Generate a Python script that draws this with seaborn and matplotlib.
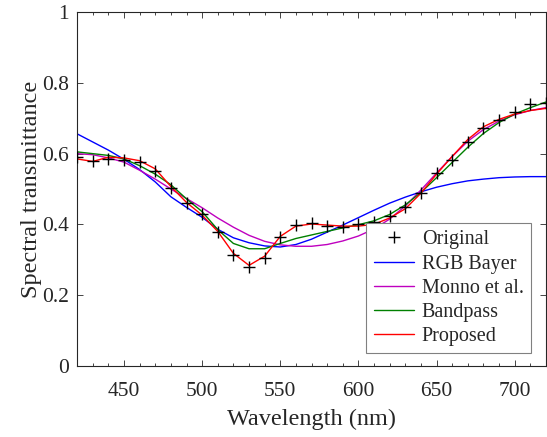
import numpy as np
import pandas as pd
import matplotlib
matplotlib.use("Agg")
import matplotlib.pyplot as plt
import seaborn as sns

# wavelength samples (nm)
wavelength = np.arange(420, 721, 10)

original = [0.590, 0.580, 0.586, 0.583, 0.577, 0.552, 0.503, 0.461, 0.428, 0.378,
            0.313, 0.280, 0.304, 0.365, 0.397, 0.403, 0.395, 0.393, 0.400, 0.406,
            0.423, 0.450, 0.490, 0.544, 0.583, 0.632, 0.672, 0.694, 0.717, 0.741, 0.743]
rgb_bayer = [0.656, 0.633, 0.610, 0.584, 0.555, 0.520, 0.478, 0.448, 0.420, 0.386,
             0.362, 0.348, 0.339, 0.336, 0.343, 0.358, 0.378, 0.398, 0.419, 0.440,
             0.460, 0.477, 0.492, 0.505, 0.515, 0.523, 0.528, 0.532, 0.534, 0.535, 0.535]
monno = [0.600, 0.597, 0.588, 0.576, 0.553, 0.528, 0.500, 0.473, 0.447, 0.418,
         0.392, 0.369, 0.352, 0.342, 0.338, 0.338, 0.343, 0.353, 0.367, 0.387,
         0.415, 0.452, 0.497, 0.545, 0.592, 0.635, 0.668, 0.692, 0.710, 0.722, 0.730]
bandpass = [0.605, 0.600, 0.595, 0.585, 0.566, 0.542, 0.512, 0.472, 0.436, 0.385,
            0.346, 0.331, 0.331, 0.346, 0.360, 0.370, 0.380, 0.390, 0.399, 0.410,
            0.428, 0.455, 0.490, 0.532, 0.575, 0.618, 0.657, 0.688, 0.712, 0.730, 0.746]
proposed = [0.585, 0.578, 0.590, 0.588, 0.580, 0.557, 0.507, 0.462, 0.426, 0.380,
            0.318, 0.284, 0.310, 0.366, 0.395, 0.401, 0.398, 0.395, 0.395, 0.400,
            0.418, 0.444, 0.488, 0.542, 0.592, 0.640, 0.676, 0.697, 0.712, 0.722, 0.728]

methods = ["RGB Bayer", "Monno et al.", "Bandpass", "Proposed"]
colors = ["#0000ff", "#bf00bf", "#008000", "#ff0000"]

df_curves = pd.DataFrame({
    "wl": np.tile(wavelength, 4),
    "val": rgb_bayer + monno + bandpass + proposed,
    "method": np.repeat(methods, len(wavelength)),
})
df_orig = pd.DataFrame({"wl": wavelength, "val": original})

sns.set_style("ticks")
plt.rcParams["font.family"] = ["Liberation Serif", "DejaVu Serif"]
plt.rcParams["axes.edgecolor"] = "#262626"
plt.rcParams["axes.linewidth"] = 0.8

fig = plt.figure(figsize=(5.47, 4.37), dpi=100)
ax = fig.add_axes([0.141, 0.163, 0.857, 0.809])

# Original as '+' markers
ax.plot(df_orig["wl"], df_orig["val"], linestyle="none", marker="+",
        markersize=9, markeredgewidth=1.0, color="black", label="Original", zorder=5)

sns.lineplot(data=df_curves, x="wl", y="val", hue="method", hue_order=methods,
             palette=colors, linewidth=1.0, ax=ax, legend=False, sort=False)
for m, c in zip(methods, colors):
    ax.plot([], [], color=c, linewidth=1.0, label=m)

ax.set_xlim(420, 720)
ax.set_ylim(0, 1)
ax.set_xticks(np.arange(450, 701, 50))
ax.set_xticks(np.arange(420, 721, 10), minor=True)
ax.set_yticks(np.arange(0, 1.01, 0.2))
ax.set_yticklabels(["0", "0.2", "0.4", "0.6", "0.8", "1"])
ax.tick_params(which="both", direction="in", top=True, right=True,
               labelsize=15.5, colors="#262626", width=0.6)
ax.tick_params(axis="x", pad=12)
ax.tick_params(axis="y", pad=6)
ax.tick_params(which="major", length=4)
ax.tick_params(which="minor", length=2.5)
for s in ax.spines.values():
    s.set_visible(True)

ax.set_xlabel("Wavelength (nm)", fontsize=17.5, color="#262626", labelpad=5)
ax.set_ylabel("Spectral transmittance", fontsize=17.5, color="#262626", labelpad=0)

leg = ax.legend(loc="lower right", bbox_to_anchor=(0.968, 0.036), fontsize=14.5,
                frameon=True, fancybox=False, edgecolor="#808080", framealpha=1,
                handlelength=2.0, handletextpad=0.4, labelspacing=0.25,
                borderpad=0.35, borderaxespad=0)
leg.get_frame().set_linewidth(0.8)

fig.savefig("out.png", dpi=100)
